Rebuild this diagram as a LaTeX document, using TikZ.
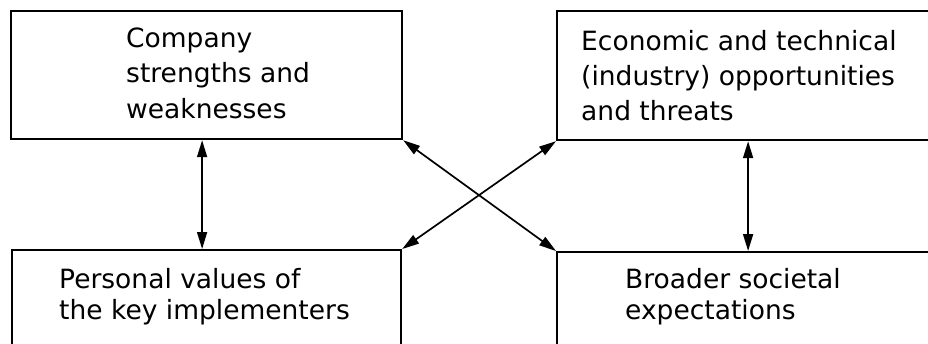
\documentclass[tikz,border=0pt]{standalone}
\usepackage{fontspec}
\setmainfont{DejaVu Sans}
\usetikzlibrary{arrows.meta}
\begin{document}
\begin{tikzpicture}[x=1pt,y=-1pt,
  box/.style={draw,line width=2.2pt,inner sep=0pt,anchor=north west},
  txt/.style={anchor=base west,inner sep=0pt,font=\fontsize{26.5}{30}\selectfont},
  link/.style={line width=1.7pt,{Triangle[length=17pt,width=10pt]}-{Triangle[length=17pt,width=10pt]}}]
\useasboundingbox (0,0) rectangle (928,343);
\clip (0,0) rectangle (928,343);
\node[box,minimum width=391pt,minimum height=128pt] (tl) at (10,10) {};
\node[box,minimum width=382pt,minimum height=129pt] (tr) at (556,10) {};
\node[box,minimum width=389pt,minimum height=120pt] (bl) at (11,249) {};
\node[box,minimum width=382pt,minimum height=120pt] (br) at (556,251) {};
\node[txt] (tl1) at (126,47) {Company};
\node[txt] (tl2) at (126,82.5) {strengths and};
\node[txt] (tl3) at (126,118) {weaknesses};
\node[txt] (tr1) at (581,50) {Economic and technical};
\node[txt] (tr2) at (581,85) {(industry) opportunities};
\node[txt] (tr3) at (581,120) {and threats};
\node[txt] (bl1) at (59,288) {Personal values of};
\node[txt] (bl2) at (59,319) {the key implementers};
\node[txt] (br1) at (625,288) {Broader societal};
\node[txt] (br2) at (625,319) {expectations};
\draw[link] ([xshift=-4.5pt]tl.south) -- ([xshift=-4.5pt]bl.north);
\draw[link] (tr.south) -- (br.north);
\draw[link] (tl.south east) -- (br.north west);
\draw[link] (tr.south west) -- (bl.north east);
\end{tikzpicture}
\end{document}
